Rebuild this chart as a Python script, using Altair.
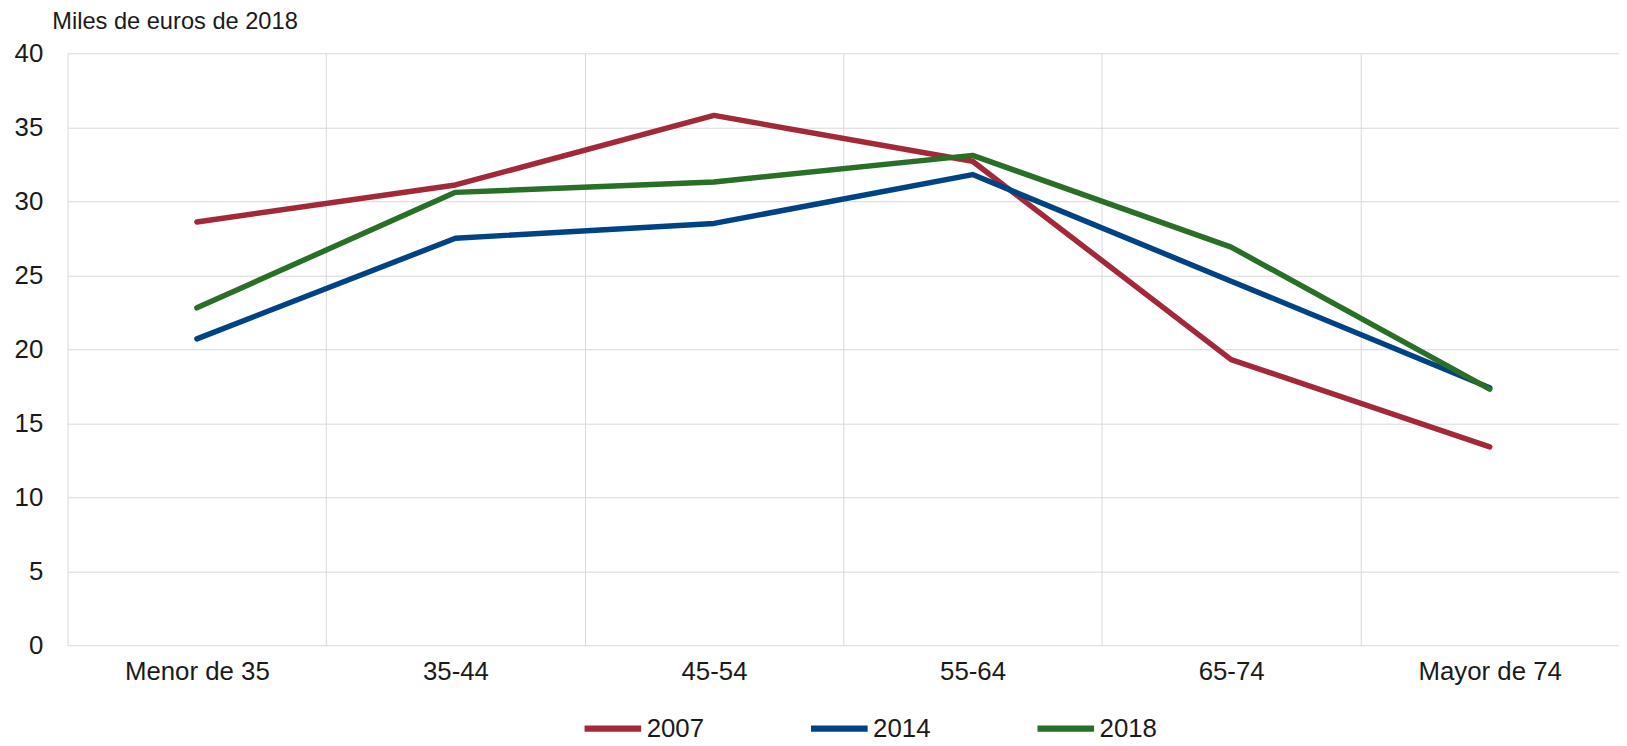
import altair as alt
import pandas as pd

categories = ["Menor de 35", "35-44", "45-54", "55-64", "65-74", "Mayor de 74"]
series_names = ["2007", "2014", "2018"]
v2007 = [28.6, 31.1, 35.8, 32.7, 19.3, 13.4]
v2014 = [20.7, 27.5, 28.5, 31.8, 24.6, 17.4]
v2018 = [22.8, 30.6, 31.3, 33.1, 26.9, 17.3]
colors = ["#A3283A", "#004385", "#2A6F27"]
y_ticks = [0, 5, 10, 15, 20, 25, 30, 35, 40]

rows = []
for name, vals in zip(series_names, [v2007, v2014, v2018]):
    for c, v in zip(categories, vals):
        rows.append({"grupo": c, "serie": name, "valor": v})
df = pd.DataFrame(rows)

FONT = "Liberation Sans"
TXT = "#1a1a1a"

chart = alt.Chart(df).mark_line(strokeWidth=5.5, strokeCap="round", strokeJoin="round").encode(
    x=alt.X("grupo:N", sort=categories,
            scale=alt.Scale(paddingInner=0, paddingOuter=0),
            axis=alt.Axis(title=None, labelAngle=0, ticks=False, domain=False,
                          grid=True, tickBand="extent", gridColor="#d9d9d9",
                          labelFontSize=26, labelColor=TXT, labelPadding=14,
                          labelFont=FONT)),
    y=alt.Y("valor:Q", scale=alt.Scale(domain=[0, 40], nice=False),
            axis=alt.Axis(values=y_ticks, title="Miles de euros de 2018", titleAngle=0,
                          titleAlign="left", titleBaseline="alphabetic",
                          titleX=-16, titleY=-25, titleFontSize=23.8,
                          titleFontWeight="normal", titleColor=TXT, titleFont=FONT,
                          ticks=False, domain=False, gridColor="#d9d9d9",
                          labelFontSize=26, labelColor=TXT, labelPadding=25,
                          labelFont=FONT)),
    color=alt.Color("serie:N", sort=series_names,
                    scale=alt.Scale(domain=series_names, range=colors),
                    legend=alt.Legend(title=None, orient="none", direction="horizontal",
                                      legendX=517, legendY=648,
                                      symbolType="stroke", symbolSize=3249,
                                      symbolStrokeWidth=6.5, labelFontSize=26,
                                      labelFont=FONT, labelColor=TXT,
                                      labelOffset=2, columnPadding=94)),
).properties(
    width=1562, height=596,
    autosize=alt.AutoSizeParams(type="none"),
    padding={"left": 60, "top": 43, "right": 0, "bottom": 110},
).configure_view(stroke=None)

chart.save("out.html", embed_options={"renderer": "svg", "actions": False})
